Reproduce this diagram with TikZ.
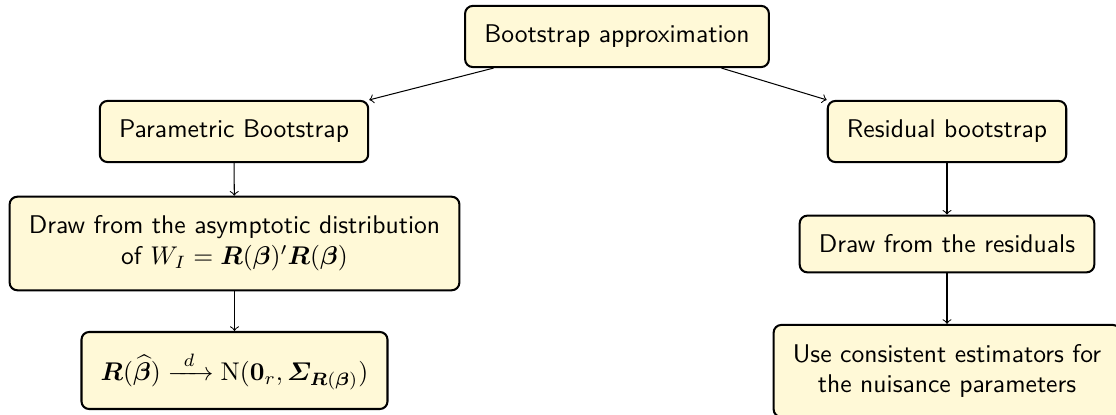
\documentclass[tikz,border=0pt]{standalone}
\usepackage{amsmath}
\usepackage{bm}
\definecolor{boxfill}{RGB}{255,249,215}
\begin{document}
\begin{tikzpicture}[x=0.390625pt,y=-0.390625pt,
  box/.style={draw,thick,rounded corners=3pt,fill=boxfill,inner sep=7.5pt,align=center,font=\sffamily},
  conn/.style={->,thin}]
\useasboundingbox (0,0) rectangle (1116,415);
\node[box] (top) at (617,36.5) {Bootstrap approximation};
\node[box] (par) at (234,131.5) {Parametric Bootstrap};
\node[box] (res) at (947,131.5) {Residual bootstrap};
\node[box] (asy) at (234.5,243.5) {Draw from the asymptotic distribution\\ of $W_I=\bm{R}(\bm{\beta})'\bm{R}(\bm{\beta})$};
\node[box] (rb) at (234.5,370.5) {$\bm{R}(\widehat{\bm{\beta}})\xrightarrow{\;\,d\;\,}\mathrm{N}(\mathbf{0}_r,\bm{\varSigma}_{\bm{R}(\bm{\beta})})$};
\node[box] (dr) at (947,244) {Draw from the residuals};
\node[box] (use) at (947,371) {Use consistent estimators for\\ the nuisance parameters};
\draw[conn] (top) -- (par.north east);
\draw[conn] (top) -- (res.north west);
\draw[conn] (par) -- (asy);
\draw[conn] (asy) -- (rb);
\draw[conn] (res) -- (dr);
\draw[conn] (dr) -- (use);
\end{tikzpicture}
\end{document}
